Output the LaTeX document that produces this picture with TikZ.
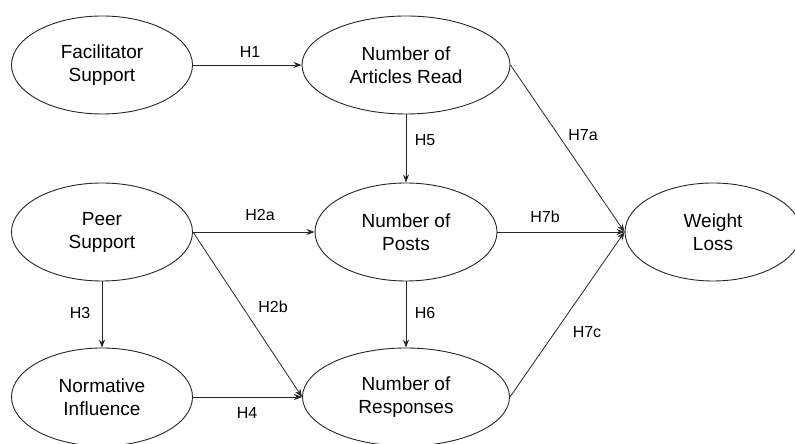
\documentclass[tikz,border=0pt]{standalone}
\usepackage{fontspec}
\setmainfont{Liberation Sans}
\usetikzlibrary{shapes.geometric,arrows.meta}
\begin{document}
\begin{tikzpicture}[x=1pt,y=1pt,
  construct/.style={ellipse,draw=black!85,line width=0.9pt,minimum height=98pt,inner sep=0pt,
    align=center,font=\fontsize{19}{23}\selectfont},
  link/.style={draw=black!85,line width=0.8pt,-{Stealth[length=8pt,width=6pt]}},
  hyp/.style={font=\fontsize{16}{19}\selectfont,inner sep=0pt}]
\useasboundingbox (0,0) rectangle (795,444);
\node[construct,minimum width=181pt] (fac) at (102,379) {Facilitator\\Support};
\node[construct,minimum width=208pt] (art) at (406,379) {Number of\\Articles Read};
\node[construct,minimum width=181pt] (peer) at (102,212) {Peer\\Support};
\node[construct,minimum width=182pt] (posts) at (406,212) {Number of\\Posts};
\node[construct,minimum width=176pt] (wl) at (713,212) {Weight\\Loss};
\node[construct,minimum width=181pt] (norm) at (102,47) {Normative\\Influence};
\node[construct,minimum width=207pt] (resp) at (406,47) {Number of\\Responses};

\draw[link] (fac.east) -- (art.west);
\draw[link] (art) -- (posts);
\draw[link] (posts) -- (resp);
\draw[link] (peer) -- (norm);
\draw[link] (peer.east) -- (posts.west);
\draw[link] (peer.east) -- (resp.west);
\draw[link] (norm.east) -- (resp.west);
\draw[link] (art.east) -- (wl.west);
\draw[link] (posts.east) -- (wl.west);
\draw[link] (resp.east) -- (wl.west);

\node[hyp] (h1) at (250,392) {H1};
\node[hyp] (h2a) at (260,229) {H2a};
\node[hyp] (h2b) at (273,137) {H2b};
\node[hyp] (h3) at (80,131) {H3};
\node[hyp] (h4) at (247,31) {H4};
\node[hyp] (h5) at (425,304) {H5};
\node[hyp] (h6) at (425,131) {H6};
\node[hyp] (h7a) at (583,309) {H7a};
\node[hyp] (h7b) at (545,227) {H7b};
\node[hyp] (h7c) at (587,112) {H7c};
\end{tikzpicture}
\end{document}
